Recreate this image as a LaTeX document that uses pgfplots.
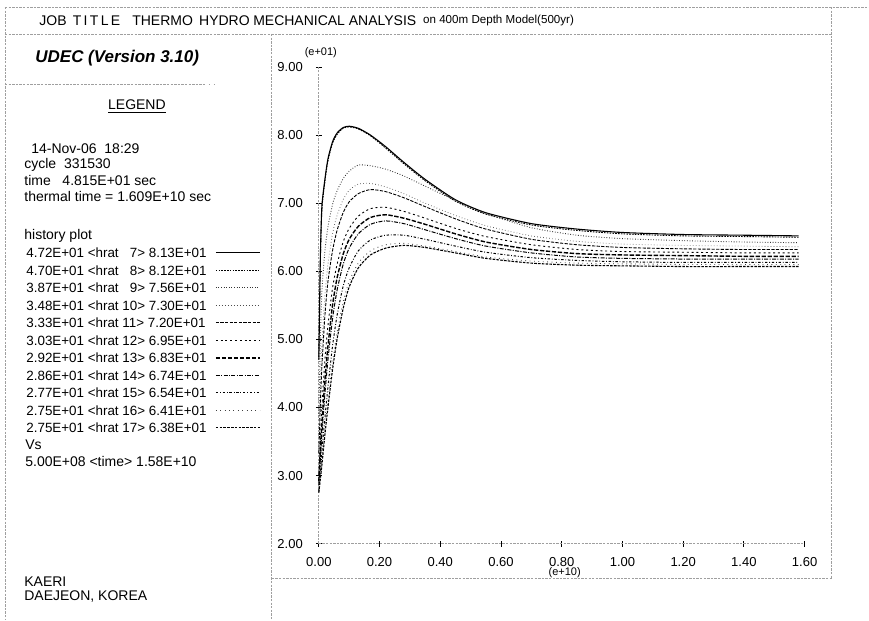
\documentclass[border=0pt]{standalone}
\usepackage{fontspec}
\setmainfont{Liberation Sans}
\usepackage{pgfplots}
\pgfplotsset{compat=1.18}

% history lines (all black, told apart by dash pattern)
\tikzset{
  frame/.style={gray!75, line width=0.45pt, dash pattern=on 1.2pt off 0.6pt},
  h7/.style={black, line width=0.55pt},
  h8/.style={black, line width=0.45pt, dash pattern=on 0.8pt off 0.6pt},
  h9/.style={black!80, line width=0.45pt, dash pattern=on 0.4pt off 0.9pt},
  h10/.style={black!70, line width=0.4pt, dash pattern=on 0.3pt off 1.2pt},
  h11/.style={black, line width=0.45pt, dash pattern=on 1.6pt off 0.7pt},
  h12/.style={black, line width=0.45pt, dash pattern=on 1pt off 1.4pt},
  h13/.style={black, line width=0.7pt, dash pattern=on 2.2pt off 0.8pt},
  h14/.style={black, line width=0.5pt, dash pattern=on 2pt off 0.7pt on 0.5pt off 0.7pt},
  h15/.style={black, line width=0.5pt, dash pattern=on 1.2pt off 0.9pt on 0.4pt off 0.9pt},
  h16/.style={black!75, line width=0.45pt, dash pattern=on 0.4pt off 1.8pt},
  h17/.style={black, line width=0.55pt, dash pattern=on 1.3pt off 0.6pt},
}

\pgfplotstableread{
x     h7    h8    h9    h10   h11   h12   h13   h14   h15   h16   h17
0.000 4.72  4.70  3.87  3.48  3.33  3.03  2.92  2.86  2.77  2.75  2.75
0.005 6.20  6.15  5.00  4.30  4.05  3.55  3.35  3.25  3.05  3.00  2.95
0.010 6.95  6.90  5.70  4.90  4.60  4.00  3.75  3.60  3.35  3.25  3.15
0.020 7.35  7.32  6.30  5.65  5.35  4.70  4.40  4.20  3.85  3.70  3.60
0.030 7.65  7.62  6.65  6.10  5.85  5.20  4.90  4.70  4.30  4.10  4.00
0.045 7.90  7.88  6.98  6.55  6.30  5.75  5.50  5.30  4.90  4.65  4.55
0.060 8.03  8.01  7.18  6.82  6.60  6.10  5.90  5.72  5.35  5.10  5.00
0.080 8.11  8.10  7.36  7.05  6.86  6.43  6.25  6.10  5.78  5.55  5.45
0.100 8.13  8.12  7.47  7.19  7.02  6.63  6.47  6.34  6.05  5.85  5.77
0.130 8.10  8.09  7.56  7.28  7.14  6.81  6.66  6.55  6.30  6.12  6.05
0.170 8.00  7.99  7.55  7.29  7.20  6.92  6.79  6.69  6.46  6.30  6.24
0.220 7.83  7.81  7.50  7.24  7.17  6.94  6.83  6.74  6.53  6.39  6.34
0.280 7.60  7.58  7.40  7.14  7.08  6.88  6.78  6.70  6.53  6.41  6.38
0.350 7.35  7.33  7.25  7.00  6.95  6.78  6.69  6.61  6.47  6.37  6.35
0.450 7.05  7.03  7.04  6.82  6.77  6.63  6.55  6.48  6.37  6.29  6.27
0.550 6.86  6.84  6.85  6.67  6.62  6.51  6.43  6.37  6.28  6.21  6.19
0.700 6.70  6.68  6.64  6.52  6.47  6.39  6.32  6.27  6.20  6.15  6.12
0.850 6.62  6.60  6.53  6.44  6.39  6.32  6.26  6.21  6.16  6.12  6.09
1.000 6.57  6.55  6.48  6.40  6.35  6.29  6.24  6.19  6.14  6.11  6.08
1.200 6.54  6.52  6.45  6.38  6.33  6.28  6.23  6.18  6.13  6.10  6.07
1.400 6.53  6.51  6.43  6.37  6.32  6.27  6.22  6.18  6.13  6.10  6.07
1.580 6.52  6.50  6.42  6.36  6.32  6.27  6.22  6.18  6.13  6.10  6.07
}\hist

\begin{document}
\begin{tikzpicture}[font=\fontsize{7}{8.5}\selectfont]
\begin{scope}[x=0.5pt, y=-0.5pt]
  \path (0,0) rectangle (869,620);
  % page frame
  \draw[frame] (5,7) -- (869,7);
  \draw[frame] (5,34) -- (832,34);
  \draw[frame] (5,7) -- (5,620);
  \draw[frame] (832,7) -- (832,579);
  \draw[frame] (272,34) -- (272,620);
  \draw[frame] (272,579) -- (832,579);
  \draw[frame] (5,84) -- (204,84);
  \draw[frame, dash pattern=on 0.5pt off 2pt] (204,84) -- (216,84);
  % header
  \node[anchor=west, inner sep=0pt] at (39,21) {JOB \,T\,I\,T\,L\,E};
  \node[anchor=west, inner sep=0pt] at (132,21) {THERMO \,HYDRO};
  \node[anchor=west, inner sep=0pt] at (253,21) {MECHANICAL ANALYSIS};
  \node[anchor=west, inner sep=0pt, font=\fontsize{5.8}{7}\selectfont] at (423,21)
    {on 400m Depth Model(500yr)};
  \node[anchor=west, inner sep=0pt, font=\fontsize{8.5}{10}\selectfont\bfseries\itshape] at (35,58)
    {UDEC (Version 3.10)};
  % legend panel
  \node[inner sep=0pt] at (137,107) {\underline{LEGEND}};
  \node[anchor=west, inner sep=0pt] at (31,149) {14-Nov-06 \ 18:29};
  \node[anchor=west, inner sep=0pt] at (24,165) {cycle \ 331530};
  \node[anchor=west, inner sep=0pt] at (24,181) {time \ \ 4.815E+01 sec};
  \node[anchor=west, inner sep=0pt] at (24,197) {thermal time = 1.609E+10 sec};
  \node[anchor=west, inner sep=0pt] at (24,236) {history plot};
  \foreach \lo/\n/\hi [count=\i from 0] in
    {4.72/7/8.13, 4.70/8/8.12, 3.87/9/7.56, 3.48/10/7.30, 3.33/11/7.20, 3.03/12/6.95,
     2.92/13/6.83, 2.86/14/6.74, 2.77/15/6.54, 2.75/16/6.41, 2.75/17/6.38} {
    \node[anchor=west, inner sep=0pt, font=\fontsize{6.7}{8}\selectfont] at (26,253+17.5*\i)
      {\lo E+01 <hrat \ifnum\n<10 \hphantom{0}\fi\n> \hi E+01};
    \draw[h\n] (216,253+17.5*\i) -- (260,253+17.5*\i);
  }
  \node[anchor=west, inner sep=0pt] at (25,445) {Vs};
  \node[anchor=west, inner sep=0pt] at (25,462) {5.00E+08 <time> 1.58E+10};
  \node[anchor=west, inner sep=0pt] at (24,582) {KAERI};
  \node[anchor=west, inner sep=0pt] at (24,597) {DAEJEON, KOREA};
  % axis multipliers
  \node[inner sep=0pt, font=\fontsize{5.5}{7}\selectfont] at (321,53) {(e+01)};
  \node[inner sep=0pt, font=\fontsize{5.5}{7}\selectfont] at (565,573) {(e+10)};
\end{scope}

\begin{axis}[
  at={(159.5pt,-272pt)}, anchor=origin,
  scale only axis, width=243pt, height=238.5pt,
  xmin=0, xmax=1.6, ymin=2, ymax=9,
  axis x line*=bottom, axis y line*=left,
  axis line style={gray!75, line width=0.45pt, dash pattern=on 1.2pt off 0.6pt},
  xtick={0,0.2,...,1.6}, ytick={2,3,...,9},
  tick align=center, major tick length=3pt,
  tick style={black, line width=0.4pt},
  ticklabel style={font=\fontsize{6.5}{8}\selectfont},
  /pgf/number format/assume math mode=true,
  /pgf/number format/.cd, fixed, fixed zerofill, precision=2, /pgfplots/.cd,
  yticklabel style={xshift=-3pt},
  xticklabel style={yshift=-2pt},
  clip=false,
]
\addplot[h7,  smooth, tension=0.4] table[x=x, y=h7]  {\hist};
\addplot[h8,  smooth, tension=0.4] table[x=x, y=h8]  {\hist};
\addplot[h9,  smooth, tension=0.4] table[x=x, y=h9]  {\hist};
\addplot[h10, smooth, tension=0.4] table[x=x, y=h10] {\hist};
\addplot[h11, smooth, tension=0.4] table[x=x, y=h11] {\hist};
\addplot[h12, smooth, tension=0.4] table[x=x, y=h12] {\hist};
\addplot[h13, smooth, tension=0.4] table[x=x, y=h13] {\hist};
\addplot[h14, smooth, tension=0.4] table[x=x, y=h14] {\hist};
\addplot[h15, smooth, tension=0.4] table[x=x, y=h15] {\hist};
\addplot[h16, smooth, tension=0.4] table[x=x, y=h16] {\hist};
\addplot[h17, smooth, tension=0.4] table[x=x, y=h17] {\hist};
\end{axis}
\end{tikzpicture}
\end{document}
